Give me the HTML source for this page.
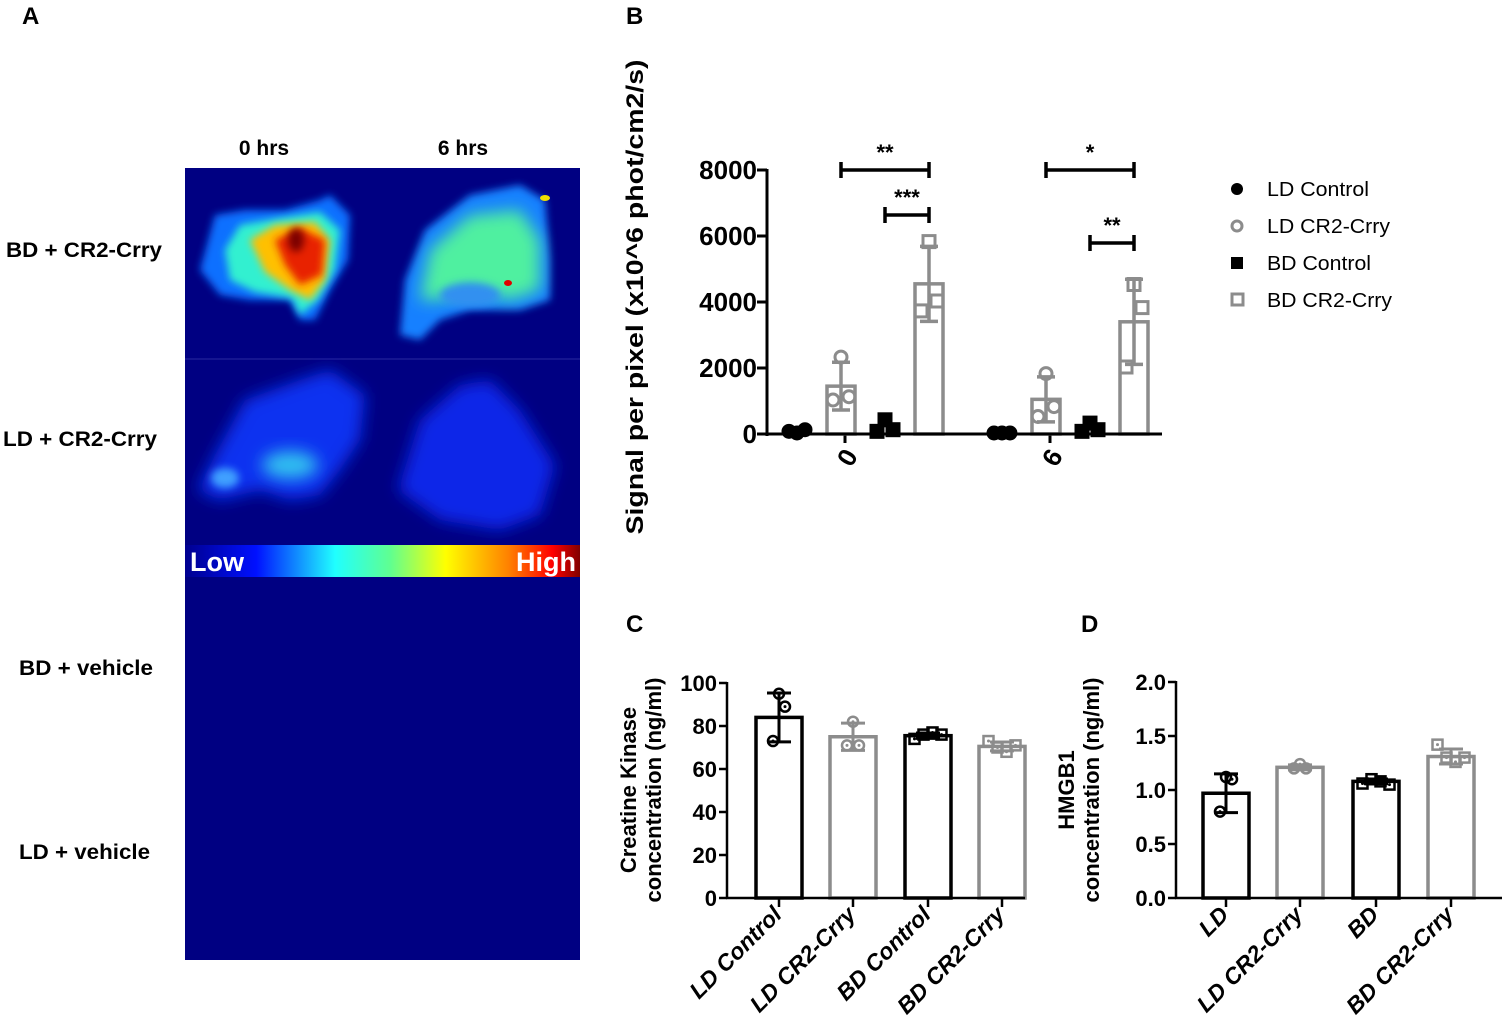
<!DOCTYPE html>
<html><head><meta charset="utf-8">
<style>
html,body{margin:0;padding:0;background:#fff;}
svg{display:block;font-family:"Liberation Sans",sans-serif;}
</style></head>
<body>
<svg id="fig" width="1504" height="1031" viewBox="0 0 1504 1031" xmlns="http://www.w3.org/2000/svg">
<defs>
  <linearGradient id="cbar" x1="0" x2="1" y1="0" y2="0">
    <stop offset="0" stop-color="#00008f"/>
    <stop offset="0.18" stop-color="#0010ff"/>
    <stop offset="0.38" stop-color="#20ffff"/>
    <stop offset="0.52" stop-color="#60ff90"/>
    <stop offset="0.66" stop-color="#ffff00"/>
    <stop offset="0.82" stop-color="#ff8000"/>
    <stop offset="0.93" stop-color="#ff0000"/>
    <stop offset="1" stop-color="#800000"/>
  </linearGradient>
  <filter id="blur4" x="-50%" y="-50%" width="200%" height="200%"><feGaussianBlur stdDeviation="4"/></filter>
  <filter id="blur8" x="-50%" y="-50%" width="200%" height="200%"><feGaussianBlur stdDeviation="8"/></filter>
  <clipPath id="imgclip"><rect x="185" y="168" width="395" height="792"/></clipPath>
</defs>

<text x="22" y="24" font-size="24" font-weight="bold">A</text>
<text x="626" y="24" font-size="24" font-weight="bold">B</text>
<text x="626" y="632" font-size="24" font-weight="bold">C</text>
<text x="1081" y="632" font-size="24" font-weight="bold">D</text>

<g>
  <text x="264" y="155" font-size="21" font-weight="bold" text-anchor="middle">0 hrs</text>
  <text x="463" y="155" font-size="21" font-weight="bold" text-anchor="middle">6 hrs</text>
  <text x="6" y="257" font-size="21" font-weight="bold" textLength="156" lengthAdjust="spacingAndGlyphs">BD + CR2-Crry</text>
  <text x="3" y="446" font-size="21" font-weight="bold" textLength="154" lengthAdjust="spacingAndGlyphs">LD + CR2-Crry</text>
  <text x="19" y="675" font-size="21" font-weight="bold" textLength="134" lengthAdjust="spacingAndGlyphs">BD + vehicle</text>
  <text x="19" y="859" font-size="21" font-weight="bold" textLength="131" lengthAdjust="spacingAndGlyphs">LD + vehicle</text>
  <rect x="185" y="168" width="395" height="792" fill="#000082"/>
  <line x1="185" y1="359" x2="580" y2="359" stroke="#2a2aa0" stroke-width="1"/>
  <g clip-path="url(#imgclip)">
  <g>
    <path d="M200,270 L215,215 L245,210 L285,210 L320,200 L330,195 L350,215 L348,260 L330,290 L315,320 L300,320 L290,300 L250,300 L220,295 Z" fill="#1070ff" filter="url(#blur4)"/>
    <path d="M225,250 L240,225 L280,218 L320,212 L340,230 L335,270 L318,300 L300,315 L292,298 L255,292 L230,280 Z" fill="#30f0d0" filter="url(#blur4)"/>
    <path d="M250,240 L275,225 L315,222 L330,240 L325,280 L310,300 L290,290 L265,272 Z" fill="#ffc000" filter="url(#blur4)"/>
    <path d="M275,240 L300,228 L325,240 L322,275 L300,285 L285,265 Z" fill="#e82000" filter="url(#blur4)"/>
    <ellipse cx="296" cy="240" rx="8" ry="12" fill="#7a0000" filter="url(#blur4)"/>
  </g>
  <g>
    <path d="M400,335 L405,280 L425,230 L470,195 L520,185 L545,200 L550,260 L550,300 L520,310 L470,310 L440,320 L420,340 Z" fill="#1880ff" filter="url(#blur4)"/>
    <path d="M420,300 L430,250 L470,215 L520,210 L540,240 L540,290 L510,300 L470,290 L440,300 Z" fill="#50f0a0" filter="url(#blur8)"/>
    <ellipse cx="470" cy="295" rx="30" ry="12" fill="#3090f0" filter="url(#blur4)"/>
    <ellipse cx="508" cy="283" rx="4" ry="3" fill="#e00000"/>
    <ellipse cx="545" cy="198" rx="5" ry="3" fill="#f0e000"/>
  </g>
  <g>
    <path d="M198,490 L215,455 L245,400 L300,380 L330,370 L365,395 L360,440 L340,470 L320,495 L290,500 L260,490 L220,500 Z" fill="#0a30f0" filter="url(#blur8)"/>
    <ellipse cx="290" cy="465" rx="28" ry="14" fill="#30c0f0" filter="url(#blur8)"/>
    <ellipse cx="225" cy="478" rx="14" ry="10" fill="#40a0ff" filter="url(#blur4)"/>
  </g>
  <g>
    <path d="M398,490 L420,420 L460,385 L490,380 L520,410 L555,465 L540,515 L500,530 L440,520 Z" fill="#0a28e8" filter="url(#blur8)"/>
  </g>
  </g>
  <rect x="185" y="545" width="395" height="32" fill="url(#cbar)"/>
  <text x="190" y="571" font-size="27" font-weight="bold" fill="#fff">Low</text>
  <text x="576" y="571" font-size="27" font-weight="bold" fill="#fff" text-anchor="end">High</text>
</g>

<g id="panelB"></g>
<g id="panelC"></g>
<g id="panelD"></g>

<script>
// ---------- Panel B data ----------
const bTicks = [0, 2000, 4000, 6000, 8000];
const bTimepoints = ["0", "6"];
const bGroups = ["LD Control", "LD CR2-Crry", "BD Control", "BD CR2-Crry"];
const bMeans0 = [50, 1450, 150, 4550];
const bMeans6 = [10, 1050, 150, 3400];
const bPts0 = [[0, 100, 50], [2300, 1100, 1000], [400, 100, 50], [5800, 4000, 3700]];
const bPts6 = [[0, 0, 0], [1800, 800, 500], [300, 100, 50], [4500, 3800, 2000]];
const bSigLabels = ["**", "***", "*", "**"];

// ---------- Panel C data ----------
const cTicks = [0, 20, 40, 60, 80, 100];
const cCats = ["LD Control", "LD CR2-Crry", "BD Control", "BD CR2-Crry"];
const cMeans = [84, 75, 75.5, 70.5];
const cPts = [[95, 89, 73], [82, 71, 71], [74, 76, 77, 76], [73, 70, 68, 71]];

// ---------- Panel D data ----------
const dTicks = [0.0, 0.5, 1.0, 1.5, 2.0];
const dCats = ["LD", "LD CR2-Crry", "BD", "BD CR2-Crry"];
const dMeans = [0.97, 1.21, 1.08, 1.31];
const dPts = [[1.12, 1.10, 0.80], [1.24, 1.20, 1.20], [1.06, 1.10, 1.08, 1.05], [1.42, 1.30, 1.26, 1.30]];

const NS = "http://www.w3.org/2000/svg";
function mk(parent, tag, attrs, txt) {
  const e = document.createElementNS(NS, tag);
  for (const k in attrs) e.setAttribute(k, attrs[k]);
  if (txt !== undefined) e.textContent = txt;
  parent.appendChild(e);
  return e;
}
function sd(a) { const m = a.reduce((s, v) => s + v, 0) / a.length; return Math.sqrt(a.reduce((s, v) => s + (v - m) * (v - m), 0) / (a.length - 1)); }
const GREY = "#8c8c8c";
const colors = ["#000", GREY, "#000", GREY];
const shapes = ["circle", "circle", "square", "square"];
const filled = [true, false, true, false];

function marker(g, shape, fill, col, x, y, r) {
  let m;
  if (shape === "circle") m = mk(g, "circle", {cx: x, cy: y, r: r, fill: fill ? col : "none", stroke: col, "stroke-width": 3});
  else m = mk(g, "rect", {x: x - r, y: y - r, width: 2 * r, height: 2 * r, fill: fill ? col : "none", stroke: col, "stroke-width": 3});
  return m;
}

// ---------- Panel B ----------
(function () {
  const g = document.getElementById("panelB");
  const y = v => 434 - v * (264 / 8000);
  const groupX = t => 797 + t * 205;
  const barX = (t, i) => groupX(t) + i * 44;
  let ax = mk(g, "line", {x1: 767, y1: y(8000) - 1, x2: 767, y2: 436, stroke: "#000", "stroke-width": 3});
  
  
  bTicks.forEach(t => {
    mk(g, "line", {x1: 757, y1: y(t), x2: 767, y2: y(t), stroke: "#000", "stroke-width": 3});
    const tl = mk(g, "text", {x: 757, y: y(t) + 9, "font-size": 26, "font-weight": "bold", "text-anchor": "end"}, String(t));
    
    
  });
  const yt = mk(g, "text", {transform: "translate(643,297) rotate(-90)", "font-size": 24, "font-weight": "bold", "text-anchor": "middle", textLength: 475, lengthAdjust: "spacingAndGlyphs"}, "Signal per pixel (x10^6 phot/cm2/s)");
  
  
  const means = [bMeans0, bMeans6], pts = [bPts0, bPts6];
  bTimepoints.forEach((tp, t) => {
    const cx = groupX(t) + 48;
    mk(g, "line", {x1: cx, y1: 434, x2: cx, y2: 443, stroke: "#000", "stroke-width": 3});
    const lab = mk(g, "text", {transform: `translate(${cx + 10},${462}) rotate(-60)`, "font-size": 26, "font-weight": "bold", "text-anchor": "middle"}, tp);
    
    
    bGroups.forEach((gr, i) => {
      const x = barX(t, i), m = means[t][i], col = colors[i];
      if (i === 1 || i === 3) {
        const b = mk(g, "rect", {x: x - 14, y: y(m), width: 28, height: 434 - y(m), fill: "none", stroke: col, "stroke-width": 3.5});
        
        
        const s = sd(pts[t][i]);
        mk(g, "line", {x1: x, y1: y(m + s), x2: x, y2: y(m - s), stroke: col, "stroke-width": 3.5});
        mk(g, "line", {x1: x - 9, y1: y(m + s), x2: x + 9, y2: y(m + s), stroke: col, "stroke-width": 3.5});
        mk(g, "line", {x1: x - 9, y1: y(m - s), x2: x + 9, y2: y(m - s), stroke: col, "stroke-width": 3.5});
      }
      pts[t][i].forEach((p, k) => {
        const dx = [0, 8, -8][k];
        const mm = marker(g, shapes[i], filled[i], col, x + dx, y(p) - 1, 6);
        
        
      });
    });
  });
  mk(g, "line", {x1: 757, y1: 434, x2: 1162, y2: 434, stroke: "#000", "stroke-width": 3});
  const brackets = [[0, 1, 3, 170], [0, 2, 3, 215], [1, 1, 3, 170], [1, 2, 3, 243]];
  brackets.forEach((b, k) => {
    const x1 = barX(b[0], b[1]), x2 = barX(b[0], b[2]), yy = b[3];
    const bg = mk(g, "g", {});
    
    
    mk(bg, "line", {x1: x1, y1: yy, x2: x2, y2: yy, stroke: "#000", "stroke-width": 3.5});
    mk(bg, "line", {x1: x1, y1: yy - 8, x2: x1, y2: yy + 8, stroke: "#000", "stroke-width": 3.5});
    mk(bg, "line", {x1: x2, y1: yy - 8, x2: x2, y2: yy + 8, stroke: "#000", "stroke-width": 3.5});
    mk(bg, "text", {x: (x1 + x2) / 2, y: yy - 10, "font-size": 22, "font-weight": "bold", "text-anchor": "middle"}, bSigLabels[k]);
  });
  bGroups.forEach((gr, i) => {
    const ly = 189 + i * 37;
    const lg = mk(g, "g", {});
    
    
    if (shapes[i] === "circle") mk(lg, "circle", {cx: 1237, cy: ly, r: filled[i] ? 6 : 5, fill: filled[i] ? "#000" : "none", stroke: colors[i], "stroke-width": filled[i] ? 0 : 3});
    else mk(lg, "rect", {x: filled[i] ? 1231 : 1232, y: ly - 6, width: filled[i] ? 12 : 11, height: filled[i] ? 12 : 11, fill: filled[i] ? "#000" : "none", stroke: colors[i], "stroke-width": filled[i] ? 0 : 3});
    mk(lg, "text", {x: 1267, y: ly + 7, "font-size": 20, textLength: i===0?102:(i===1?123:(i===2?104:125)), lengthAdjust: "spacingAndGlyphs"}, gr);
  });
})();

function smallChart(id, axX, axEnd, yTop, maxV, ticks, fmt, cats, means, pts, xs, title1, title2, titleX) {
  const g = document.getElementById(id);
  const y = v => 898 - v * ((898 - yTop) / maxV);
  const a = mk(g, "line", {x1: axX, y1: y(maxV) - 1, x2: axX, y2: 899, stroke: "#000", "stroke-width": 2.5});
  
  
  ticks.forEach(t => {
    mk(g, "line", {x1: axX - 8, y1: y(t), x2: axX, y2: y(t), stroke: "#000", "stroke-width": 2.5});
    const tl = mk(g, "text", {x: axX - 10, y: y(t) + 8, "font-size": 22, "font-weight": "bold", "text-anchor": "end"}, fmt(t));
    
    
  });
  const t1 = mk(g, "text", {transform: `translate(${titleX},790) rotate(-90)`, "font-size": 22, "font-weight": "bold", "text-anchor": "middle"}, title1);
  
  
  const t2 = mk(g, "text", {transform: `translate(${titleX + 25},790) rotate(-90)`, "font-size": 22, "font-weight": "bold", "text-anchor": "middle"}, title2);
  
  
  cats.forEach((c, i) => {
    const x = xs[i], m = means[i], col = colors[i];
    const b = mk(g, "rect", {x: x - 23, y: y(m), width: 46, height: 898 - y(m), fill: "none", stroke: col, "stroke-width": 3.5});
    
    
    const s = sd(pts[i]);
    mk(g, "line", {x1: x, y1: y(m + s), x2: x, y2: y(m - s), stroke: col, "stroke-width": 3});
    mk(g, "line", {x1: x - 12, y1: y(m + s), x2: x + 12, y2: y(m + s), stroke: col, "stroke-width": 3});
    mk(g, "line", {x1: x - 12, y1: y(m - s), x2: x + 12, y2: y(m - s), stroke: col, "stroke-width": 3});
    const n = pts[i].length;
    pts[i].forEach((p, k) => {
      const dx = n === 3 ? [0, 6, -6][k] : (k - 1.5) * 9;
      const mm = marker(g, shapes[i], false, col, x + dx, y(p), 5);
      mm.setAttribute("stroke-width", 2.5);
      
      
      mk(g, "circle", {cx: x + dx, cy: y(p), r: 1.5, fill: col});
    });
    mk(g, "line", {x1: x, y1: 898, x2: x, y2: 907, stroke: "#000", "stroke-width": 2.5});
    const lab = mk(g, "text", {transform: `translate(${x + 4},${916}) rotate(-45)`, "font-size": 23, "font-weight": "bold", "font-style": "italic", "text-anchor": "end"}, c);
    
    
  });
  const xa = mk(g, "line", {x1: axX - 1, y1: 898, x2: axEnd, y2: 898, stroke: "#000", "stroke-width": 2.5});
  
  
}
smallChart("panelC", 727, 1025, 683, 100, cTicks, t => String(t), cCats, cMeans, cPts, [779, 853, 928, 1002],
  "Creatine Kinase", "concentration (ng/ml)", 636);
smallChart("panelD", 1176, 1502, 682, 2.0, dTicks, t => t.toFixed(1), dCats, dMeans, dPts, [1226, 1300, 1376, 1451],
  "HMGB1", "concentration (ng/ml)", 1074);
</script>
</svg>
</body></html>
